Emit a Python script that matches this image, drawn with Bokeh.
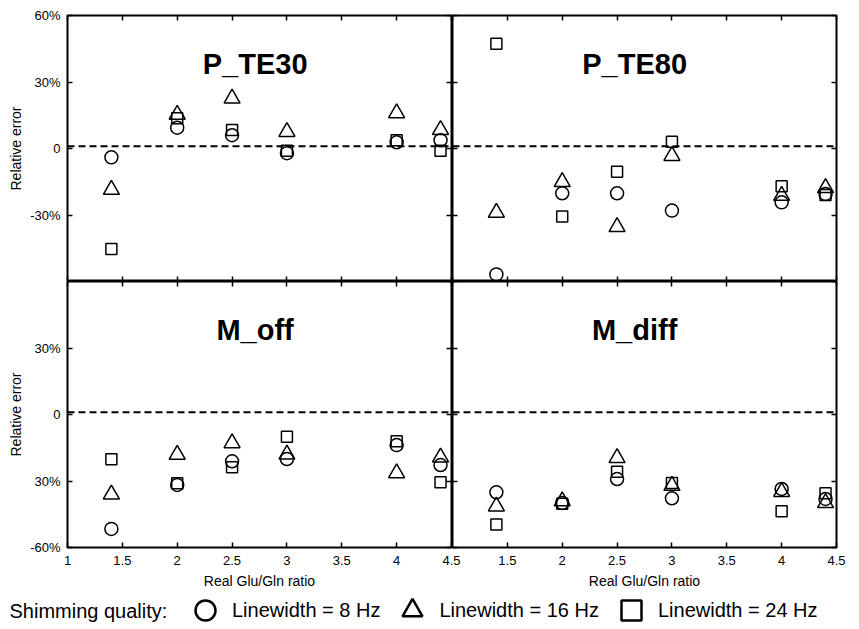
from bokeh.plotting import figure
from bokeh.models import Range1d, FixedTicker, LinearAxis, Span, Label, Legend, LegendItem
from bokeh.layouts import column, row
from bokeh.embed import file_html
from bokeh.resources import INLINE

FONT = "Liberation Sans"

# ---------------- data ----------------
x_ratio = [1.4, 2.0, 2.5, 3.0, 4.0, 4.4]          # real Glu/Gln ratio
panel_names = ["P_TE30", "P_TE80", "M_off", "M_diff"]

# relative error in % for each shimming quality
lw8_hz = {
    "P_TE30": [-4.0, 9.4, 6.0, -2.1, 2.8, 3.7],
    "P_TE80": [-56.8, -20.2, -20.2, -28.0, -24.3, -20.5],
    "M_off":  [-51.6, -31.8, -21.1, -20.1, -13.8, -22.8],
    "M_diff": [-35.1, -39.9, -29.1, -37.8, -33.6, -38.1],
}
lw16_hz = {
    "P_TE30": [-18.6, 15.3, 22.6, 7.5, 16.0, 8.4],
    "P_TE80": [-28.9, -15.1, -35.4, -3.3, -21.3, -17.8],
    "M_off":  [-36.0, -18.1, -12.9, -18.0, -26.4, -19.3],
    "M_diff": [-41.4, -39.1, -19.6, -32.1, -34.9, -39.9],
}
lw24_hz = {
    "P_TE30": [-45.3, 13.6, 8.4, -1.0, 3.7, -1.0],
    "P_TE80": [47.2, -30.7, -10.5, 3.1, -17.0, -21.0],
    "M_off":  [-20.2, -31.0, -23.8, -10.0, -12.1, -30.6],
    "M_diff": [-49.6, -40.3, -25.8, -30.9, -43.6, -35.5],
}

x_ticks = [1, 1.5, 2, 2.5, 3, 3.5, 4, 4.5]
x_labels_left = ["1", "1.5", "2", "2.5", "3", "3.5", "4", "4.5"]
x_ticks_right = [1.5, 2, 2.5, 3, 3.5, 4, 4.5]
x_labels_right = ["1.5", "2", "2.5", "3", "3.5", "4", "4.5"]
y_ticks = [-60, -30, 0, 30, 60]
y_ticks_top = [-30, 0, 30, 60]
y_labels_top = ["-30%", "0", "30%", "60%"]
y_ticks_bottom = [-60, -30, 0, 30]
y_labels_bottom = ["-60%", "30%", "0", "30%"]
ref_line = 1.0

legend_title = "Shimming quality:"
legend_labels = ["Linewidth = 8 Hz", "Linewidth = 16 Hz", "Linewidth = 24 Hz"]
markers = ["circle", "triangle", "square"]
marker_sizes = [13, 16, 11]


def add_axis(p, side, ticks, labels=None, title=None):
    ax = LinearAxis(ticker=FixedTicker(ticks=ticks), axis_line_color=None,
                    major_tick_in=5, major_tick_out=0,
                    major_tick_line_color="black", major_tick_line_width=1.5,
                    minor_tick_line_color=None)
    if labels is not None:
        ax.major_label_overrides = {t: l for t, l in zip(ticks, labels)}
        ax.major_label_text_font = FONT
        ax.major_label_text_font_size = "13px"
        ax.major_label_text_color = "black"
        ax.major_label_standoff = 7 if side == "left" else 8
    else:
        ax.major_label_text_font_size = "1px"
        ax.major_label_text_alpha = 0
        ax.major_label_text_color = None
        ax.major_label_standoff = 0
    if title is not None:
        ax.axis_label = title
        ax.axis_label_text_font = FONT
        ax.axis_label_text_font_size = "14px"
        ax.axis_label_text_font_style = "normal"
        ax.axis_label_text_color = "black"
        ax.axis_label_standoff = 3 if side == "left" else 5
    p.add_layout(ax, side)


def make_panel(name, is_left, is_bottom):
    p = figure(frame_width=384, frame_height=266,
               x_range=Range1d(1, 4.5), y_range=Range1d(-60, 60),
               output_backend="svg", toolbar_location=None, tools="",
               x_axis_location=None, y_axis_location=None,
               min_border_left=67 if is_left else 3, min_border_right=12,
               min_border_top=0 if is_bottom else 15,
               min_border_bottom=48 if is_bottom else 0)
    p.grid.visible = False
    p.outline_line_color = "black"
    p.outline_line_width = 2
    p.outline_line_alpha = 1
    if not is_left:
        p.border_fill_color = None
        p.background_fill_color = None
    # axes
    if is_bottom:
        if is_left:
            add_axis(p, "below", x_ticks, x_labels_left, "Real Glu/Gln ratio")
        else:
            add_axis(p, "below", x_ticks_right, x_labels_right, "Real Glu/Gln ratio")
    else:
        add_axis(p, "below", x_ticks)
    add_axis(p, "above", x_ticks)
    if is_left:
        if is_bottom:
            add_axis(p, "left", y_ticks_bottom, y_labels_bottom, "Relative error")
        else:
            add_axis(p, "left", y_ticks_top, y_labels_top, "Relative error")
    else:
        add_axis(p, "left", y_ticks)
    add_axis(p, "right", y_ticks)

    p.add_layout(Span(location=ref_line, dimension="width", line_color="black",
                      line_dash="7 4", line_width=2))
    for series, mk, sz in zip([lw8_hz, lw16_hz, lw24_hz], markers, marker_sizes):
        p.scatter(x_ratio, series[name], marker=mk, size=sz, fill_color=None,
                  line_color="black", line_width=1.5)
    p.add_layout(Label(x=2.71 if is_left else 2.66, y=38, text=name, text_font=FONT,
                       text_font_style="bold", text_font_size="29px",
                       text_align="center", text_baseline="alphabetic",
                       text_color="black"))
    if not is_left:
        p.margin = (0, 0, 0, -14)
    return p


tl = make_panel(panel_names[0], True, False)
tr = make_panel(panel_names[1], False, False)
bl = make_panel(panel_names[2], True, True)
br = make_panel(panel_names[3], False, True)

# legend strip
lg = figure(width=848, height=34, output_backend="svg", toolbar_location=None, tools="",
            x_axis_location=None, y_axis_location=None, min_border=0,
            x_range=Range1d(0, 1), y_range=Range1d(0, 1))
lg.grid.visible = False
lg.outline_line_color = None
lg.border_fill_color = None
lg.background_fill_color = None
items = []
for mk, lab in zip(markers, legend_labels):
    r = lg.scatter([float("nan")], [float("nan")], marker=mk, fill_color=None,
                   line_color="black", line_width=2.5)
    items.append(LegendItem(label=lab, renderers=[r]))
legend = Legend(items=items, orientation="horizontal", location=(180, -6),
                glyph_width=50, glyph_height=50, label_standoff=2, spacing=7,
                padding=0, margin=0, border_line_color=None, background_fill_alpha=0,
                label_text_font=FONT, label_text_font_size="20px", label_text_color="black")
lg.add_layout(legend)
lg.add_layout(Label(x=9, y=19, x_units="screen", y_units="screen", text=legend_title,
                    text_font=FONT, text_font_size="20px", text_baseline="middle",
                    text_color="black"))

layout = column(row(tl, tr), row(bl, br), lg)

open("out.html", "w").write(file_html(layout, INLINE))
